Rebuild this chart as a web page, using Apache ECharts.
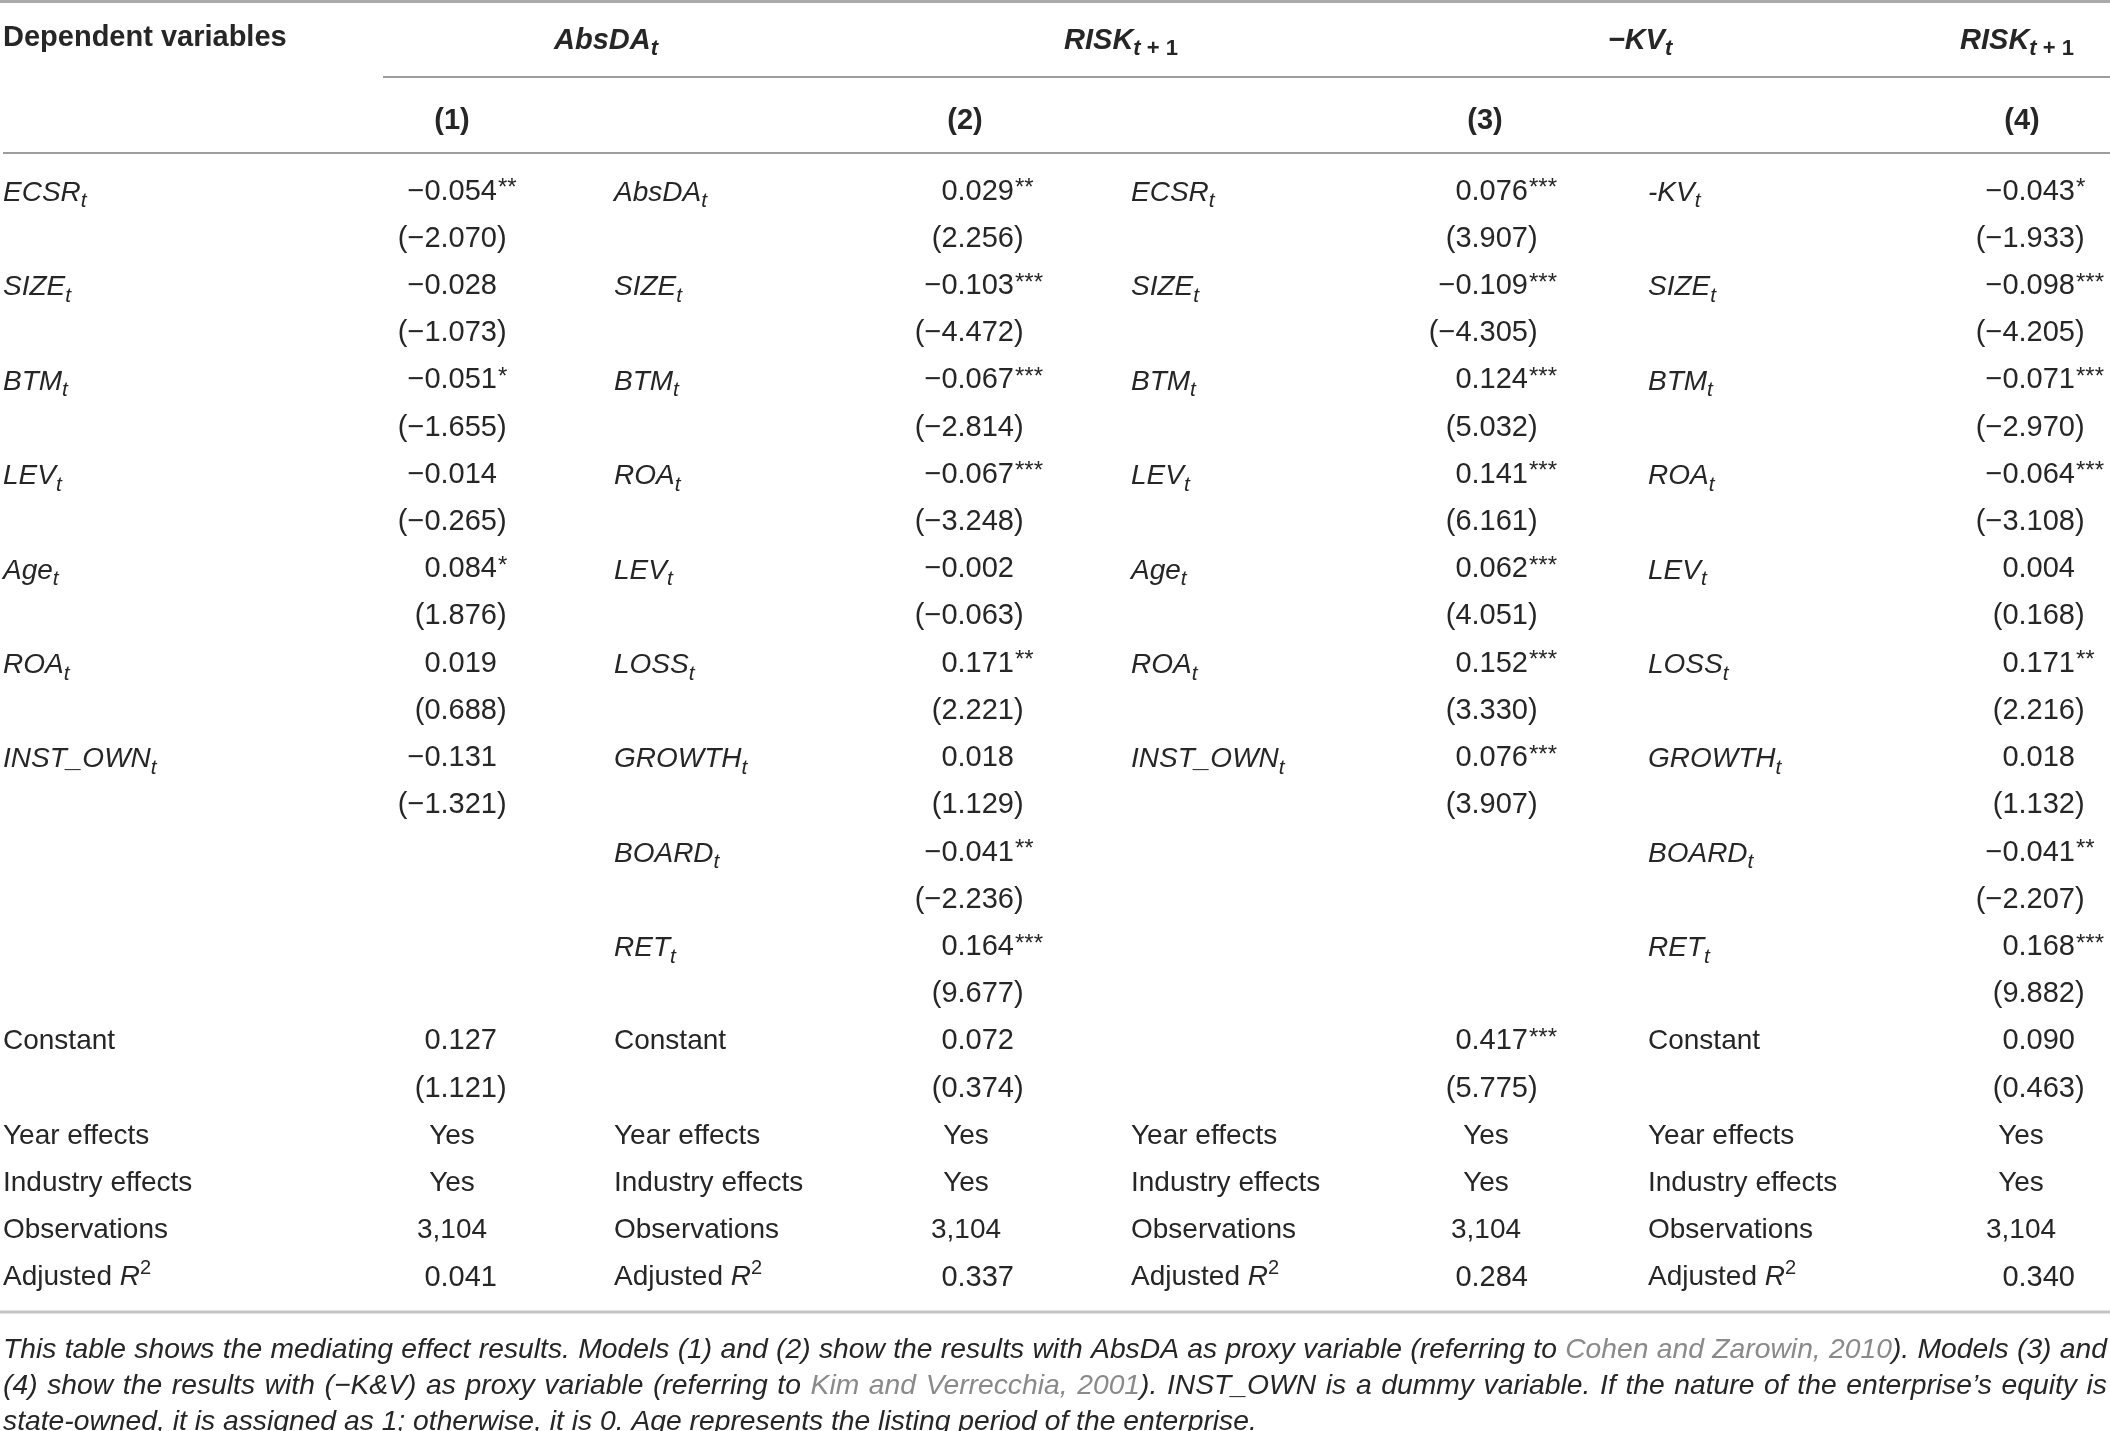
<!DOCTYPE html>
<html>
<head>
<meta charset="utf-8">
<script src="https://cdn.jsdelivr.net/npm/echarts@6/dist/echarts.min.js"></script>
<style>html,body{margin:0;padding:0;background:#fff}#c{width:2110px;height:1431px}</style>
</head>
<body>
<div id="c"></div>
<script>
// ---------------- DATA ----------------
const headerTitle = 'Dependent variables';
const groupHeads = ['AbsDA', 'RISK', '−KV', 'RISK'];
const groupSubs = ['t', 't + 1', 't', 't + 1'];
const modelNames = ['(1)', '(2)', '(3)', '(4)'];

const m1Vars = ['ECSR', 'SIZE', 'BTM', 'LEV', 'Age', 'ROA', 'INST_OWN'];
const m1Coef = [-0.054, -0.028, -0.051, -0.014, 0.084, 0.019, -0.131];
const m1Stars = [2, 0, 1, 0, 1, 0, 0];
const m1T = [-2.070, -1.073, -1.655, -0.265, 1.876, 0.688, -1.321];

const m2Vars = ['AbsDA', 'SIZE', 'BTM', 'ROA', 'LEV', 'LOSS', 'GROWTH', 'BOARD', 'RET'];
const m2Coef = [0.029, -0.103, -0.067, -0.067, -0.002, 0.171, 0.018, -0.041, 0.164];
const m2Stars = [2, 3, 3, 3, 0, 2, 0, 2, 3];
const m2T = [2.256, -4.472, -2.814, -3.248, -0.063, 2.221, 1.129, -2.236, 9.677];

const m3Vars = ['ECSR', 'SIZE', 'BTM', 'LEV', 'Age', 'ROA', 'INST_OWN'];
const m3Coef = [0.076, -0.109, 0.124, 0.141, 0.062, 0.152, 0.076];
const m3Stars = [3, 3, 3, 3, 3, 3, 3];
const m3T = [3.907, -4.305, 5.032, 6.161, 4.051, 3.330, 3.907];

const m4Vars = ['-KV', 'SIZE', 'BTM', 'ROA', 'LEV', 'LOSS', 'GROWTH', 'BOARD', 'RET'];
const m4Coef = [-0.043, -0.098, -0.071, -0.064, 0.004, 0.171, 0.018, -0.041, 0.168];
const m4Stars = [1, 3, 3, 3, 0, 2, 0, 2, 3];
const m4T = [-1.933, -4.205, -2.970, -3.108, 0.168, 2.216, 1.132, -2.207, 9.882];

const constLabels = ['Constant', 'Constant', '', 'Constant'];
const constCoef = [0.127, 0.072, 0.417, 0.090];
const constStars = [0, 0, 3, 0];
const constT = [1.121, 0.374, 5.775, 0.463];

const statLabels = ['Year effects', 'Industry effects', 'Observations', 'Adjusted R2'];
const yearEffects = ['Yes', 'Yes', 'Yes', 'Yes'];
const industryEffects = ['Yes', 'Yes', 'Yes', 'Yes'];
const observations = [3104, 3104, 3104, 3104];
const adjR2 = [0.041, 0.337, 0.284, 0.340];

const captionLines = [
  [['This table shows the mediating effect results. Models (1) and (2) show the results with AbsDA as proxy variable (referring to ', 0], ['Cohen and Zarowin, 2010', 1], ['). Models (3) and', 0]],
  [['(4) show the results with (−K&V) as proxy variable (referring to ', 0], ['Kim and Verrecchia, 2001', 1], ['). INST_OWN is a dummy variable. If the nature of the enterprise’s equity is', 0]],
  [['state-owned, it is assigned as 1; otherwise, it is 0. Age represents the listing period of the enterprise.', 0]]
];

// ---------------- LAYOUT ----------------
const W = 2110, H = 1431;
const F = '"Liberation Sans", Arial, Helvetica, sans-serif';
const TXT = '#262626';
const GRAY = '#8a8a8a';
const FS = 28;      // labels
const NFS = 29;     // numbers
const HFS = 29;     // bold headers
const ROW0 = 191.5, ROWH = 47.22;
const py = px => (px - ROW0) / ROWH;

const labelX = [3, 614, 1131, 1648];
const numX = [497, 1014, 1528, 2075];
const centerX = [452, 966, 1486, 2021];
const groupX = [606, 1121, 1640, 2017];
const modelX = [452, 965, 1485, 2022];

const models = [
  {vars: m1Vars, coef: m1Coef, stars: m1Stars, t: m1T},
  {vars: m2Vars, coef: m2Coef, stars: m2Stars, t: m2T},
  {vars: m3Vars, coef: m3Coef, stars: m3Stars, t: m3T},
  {vars: m4Vars, coef: m4Coef, stars: m4Stars, t: m4T}
];

const fmt = v => (v < 0 ? '−' : '') + Math.abs(v).toFixed(3);

const richLbl = {
  i: {fontStyle: 'italic', fontSize: FS, fontFamily: F, fill: TXT, lineHeight: 38, verticalAlign: 'middle'},
  r: {fontSize: FS, fontFamily: F, fill: TXT, lineHeight: 38, verticalAlign: 'middle'},
  sub: {fontStyle: 'italic', fontSize: 21, fontFamily: F, fill: TXT, lineHeight: 22, verticalAlign: 'bottom'},
  sup: {fontSize: 20, fontFamily: F, fill: TXT, lineHeight: 22, verticalAlign: 'top'},
  bi: {fontStyle: 'italic', fontWeight: 'bold', fontSize: HFS, fontFamily: F, fill: TXT, lineHeight: 38, verticalAlign: 'middle'},
  bsub: {fontStyle: 'italic', fontWeight: 'bold', fontSize: 22, fontFamily: F, fill: TXT, lineHeight: 22, verticalAlign: 'bottom'},
  bsubr: {fontWeight: 'bold', fontSize: 22, fontFamily: F, fill: TXT, lineHeight: 22, verticalAlign: 'bottom'}
};

const cells = [];
function put(x, y, text, o) { cells.push(Object.assign({x: x, y: y, text: text}, o || {})); }

// header
put(3, py(38), headerTitle, {align: 'left', weight: 'bold', size: HFS});
groupHeads.forEach((g, m) => {
  const sub = groupSubs[m];
  let r = '{bi|' + g + '}{bsub|t}';
  if (sub.length > 1) r += '{bsubr|' + sub.slice(1) + '}';
  put(groupX[m], py(38), r, {align: 'center', rich: true, dy: 3});
});
modelNames.forEach((n, m) => put(modelX[m], py(121), n, {align: 'center', weight: 'bold', size: HFS}));

function numberCell(m, row, v, stars) {
  put(numX[m], row, fmt(v), {align: 'right', size: NFS});
  if (stars > 0) put(numX[m] + 1, row, '*'.repeat(stars), {align: 'left', size: 24, dy: -3});
}
function tCell(m, row, v) {
  put(numX[m], row, '(' + fmt(v), {align: 'right', size: NFS});
  put(numX[m], row, ')', {align: 'left', size: NFS});
}

models.forEach((md, m) => {
  md.vars.forEach((name, k) => {
    put(labelX[m], 2 * k, '{i|' + name + '}{sub|t}', {align: 'left', rich: true, dy: 1.5});
    numberCell(m, 2 * k, md.coef[k], md.stars[k]);
    tCell(m, 2 * k + 1, md.t[k]);
  });
  if (constLabels[m]) put(labelX[m], 18, constLabels[m], {align: 'left'});
  numberCell(m, 18, constCoef[m], constStars[m]);
  tCell(m, 19, constT[m]);
  put(labelX[m], 20, statLabels[0], {align: 'left'});
  put(labelX[m], 21, statLabels[1], {align: 'left'});
  put(labelX[m], 22, statLabels[2], {align: 'left'});
  put(labelX[m], 23, '{r|Adjusted }{i|R}{sup|2}', {align: 'left', rich: true, dy: 0});
  put(centerX[m], 20, yearEffects[m], {align: 'center'});
  put(centerX[m], 21, industryEffects[m], {align: 'center'});
  put(centerX[m], 22, observations[m].toLocaleString('en-US'), {align: 'center'});
  put(numX[m], 23, adjR2[m].toFixed(3), {align: 'right', size: NFS});
});

// caption, justified lines
(function () {
  const ctx = document.createElement('canvas').getContext('2d');
  const capY = [1350, 1386, 1422];
  const targets = [2104, 2104, null];
  function wordsOf(line) {
    const words = []; let cur = null;
    line.forEach(([txt, g]) => {
      txt.split(' ').forEach((part, j) => {
        if (j > 0) cur = null;
        if (part === '') return;
        if (!cur) { cur = []; words.push(cur); }
        cur.push({t: part, g: g});
      });
    });
    return words;
  }
  const base = 26;
  ctx.font = 'italic ' + base + 'px ' + F;
  const w3 = ctx.measureText(captionLines[2].map(p => p[0]).join('')).width;
  const fs = Math.min(30, base * 1254 / w3);
  ctx.font = 'italic ' + fs + 'px ' + F;
  const sp = ctx.measureText(' ').width;
  captionLines.forEach((line, i) => {
    const words = wordsOf(line);
    const ww = words.map(w => w.reduce((s, p) => s + ctx.measureText(p.t).width, 0));
    const total = ww.reduce((a, b) => a + b, 0);
    let gap = targets[i] ? (targets[i] - total) / (words.length - 1) : sp;
    if (gap < sp * 0.6) gap = sp * 0.6;
    let x = 3;
    words.forEach((w) => {
      w.forEach(p => {
        put(x, py(capY[i]), p.t, {align: 'left', italic: true, size: fs, color: p.g ? GRAY : TXT});
        x += ctx.measureText(p.t).width;
      });
      x += gap;
    });
  });
})();

const rules = [
  [0, W, py(1.5), 3, '#a9a9a9'],
  [383, W, py(77), 1.6, '#7c7c7c'],
  [3, W, py(153), 1.6, '#7c7c7c'],
  [0, W, py(1312), 3, '#c4c4c4']
];

const chart = echarts.init(document.getElementById('c'), null, {renderer: 'canvas'});
chart.setOption({
  animation: false,
  backgroundColor: '#ffffff',
  grid: {left: 0, right: 0, top: 0, bottom: 0},
  xAxis: {type: 'value', min: 0, max: W, show: false},
  yAxis: {type: 'value', min: py(0), max: py(H), inverse: true, show: false},
  series: [
    {
      type: 'custom',
      clip: false,
      silent: true,
      data: rules.map(r => [r[0], r[2], r[1]]),
      renderItem: function (params, api) {
        const r = rules[params.dataIndex];
        const a = api.coord([r[0], r[2]]);
        const b = api.coord([r[1], r[2]]);
        return {type: 'line', shape: {x1: a[0], y1: a[1], x2: b[0], y2: b[1]}, style: {stroke: r[4], lineWidth: r[3]}};
      }
    },
    {
      type: 'custom',
      clip: false,
      silent: true,
      data: cells.map(c => [c.x, c.y]),
      renderItem: function (params, api) {
        const c = cells[params.dataIndex];
        const p = api.coord([c.x, c.y]);
        const style = {
          text: c.text,
          x: 0, y: 0,
          align: c.align,
          verticalAlign: 'middle',
          fontFamily: F,
          fontSize: c.size || FS,
          fontWeight: c.weight || 'normal',
          fontStyle: c.italic ? 'italic' : 'normal',
          fill: c.color || TXT
        };
        if (c.rich) style.rich = richLbl;
        return {type: 'text', x: p[0], y: p[1] + (c.dy || 0), style: style};
      }
    }
  ]
});
</script>
</body>
</html>
